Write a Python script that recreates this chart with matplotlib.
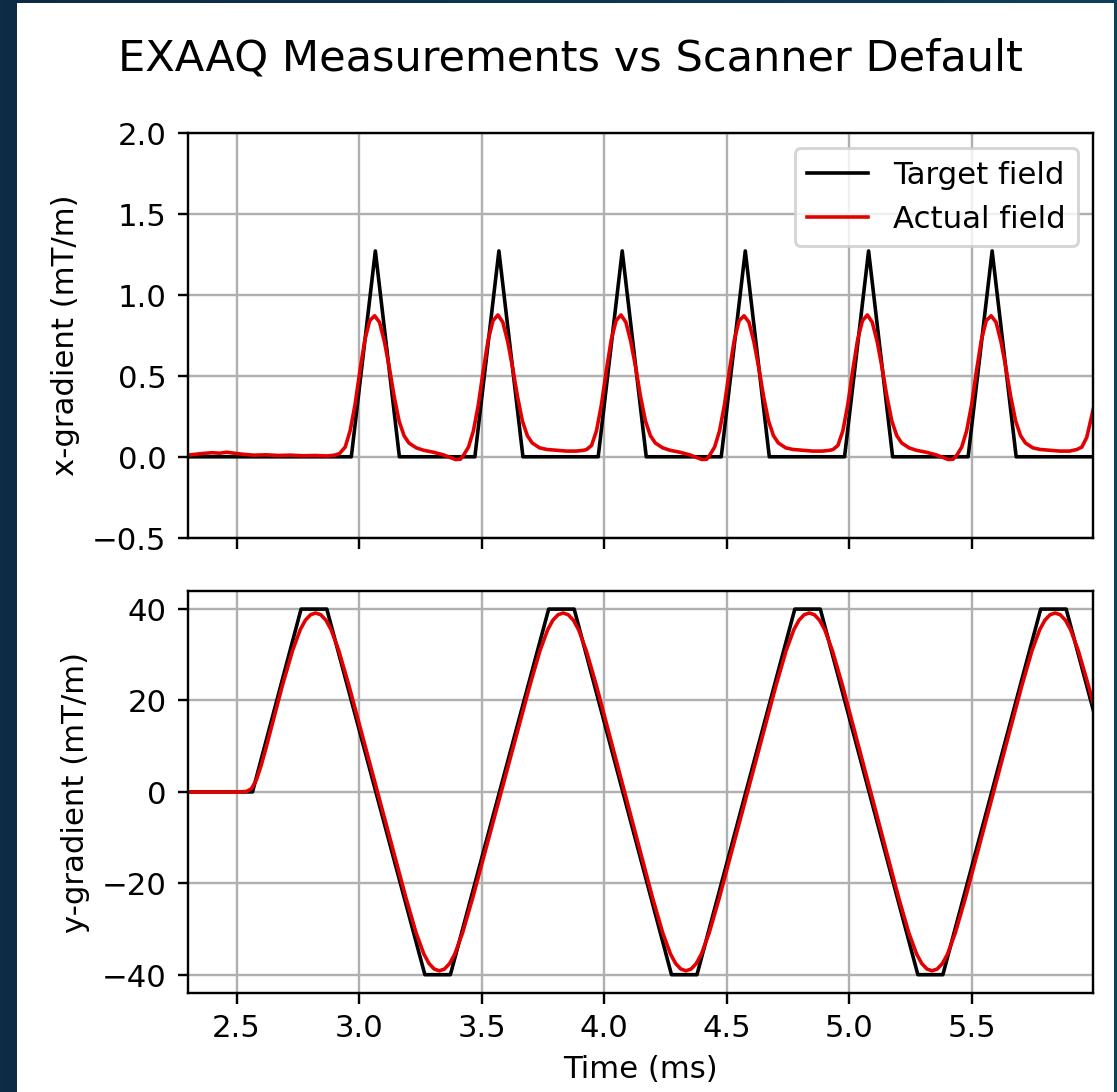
import numpy as np
import matplotlib
matplotlib.use("Agg")
import matplotlib.pyplot as plt
from matplotlib.colors import LinearSegmentedColormap
from matplotlib.patches import Rectangle

# --- x-gradient: target (triangular blips) ---
x_target_t = [2.30, 2.968, 3.066, 3.164, 3.472, 3.570, 3.668, 3.975, 4.073, 4.171,
              4.477, 4.575, 4.673, 4.980, 5.078, 5.176, 5.484, 5.582, 5.680, 6.00]
x_target_v = [0.0, 0.0, 1.27, 0.0, 0.0, 1.27, 0.0, 0.0, 1.27, 0.0,
              0.0, 1.27, 0.0, 0.0, 1.27, 0.0, 0.0, 1.27, 0.0, 0.0]

# --- x-gradient: measured ---
x_actual_t = [2.30, 2.33, 2.36, 2.40, 2.43, 2.46, 2.50, 2.53, 2.57, 2.62, 2.67, 2.72, 2.77, 2.82, 2.87, 2.90, 2.92,
              2.943, 2.963, 2.983, 3.003, 3.023, 3.043, 3.063, 3.083, 3.103, 3.123, 3.143, 3.163, 3.183, 3.203, 3.233,
              3.263, 3.303, 3.343, 3.373, 3.393, 3.413, 3.426,
              3.446, 3.466, 3.486, 3.506, 3.526, 3.546, 3.566, 3.586, 3.606, 3.626, 3.646, 3.666, 3.686, 3.706, 3.736,
              3.766, 3.806, 3.846, 3.886, 3.916, 3.928,
              3.948, 3.968, 3.988, 4.008, 4.028, 4.048, 4.068, 4.088, 4.108, 4.128, 4.148, 4.168, 4.188, 4.208, 4.238,
              4.268, 4.308, 4.348, 4.378, 4.398, 4.418, 4.430,
              4.450, 4.470, 4.490, 4.510, 4.530, 4.550, 4.570, 4.590, 4.610, 4.630, 4.650, 4.670, 4.690, 4.710, 4.740,
              4.770, 4.810, 4.850, 4.890, 4.920, 4.933,
              4.953, 4.973, 4.993, 5.013, 5.033, 5.053, 5.073, 5.093, 5.113, 5.133, 5.153, 5.173, 5.193, 5.213, 5.243,
              5.273, 5.313, 5.353, 5.383, 5.403, 5.423, 5.438,
              5.458, 5.478, 5.498, 5.518, 5.538, 5.558, 5.578, 5.598, 5.618, 5.638, 5.658, 5.678, 5.698, 5.718, 5.748,
              5.778, 5.818, 5.858, 5.898, 5.928, 5.948, 5.968, 5.988, 6.000]
x_actual_v = [0.010, 0.015, 0.020, 0.025, 0.022, 0.028, 0.020, 0.015, 0.010, 0.012, 0.008, 0.010, 0.006, 0.008, 0.005, 0.010, 0.020,
              0.06, 0.16, 0.32, 0.53, 0.72, 0.84, 0.87, 0.83, 0.71, 0.55, 0.37, 0.22, 0.13, 0.085, 0.055,
              0.040, 0.028, 0.012, -0.005, -0.017, -0.015, 0.010,
              0.06, 0.16, 0.32, 0.53, 0.72, 0.84, 0.875, 0.83, 0.71, 0.55, 0.37, 0.22, 0.13, 0.085, 0.055,
              0.045, 0.040, 0.035, 0.035, 0.040, 0.045,
              0.07, 0.16, 0.32, 0.53, 0.72, 0.84, 0.875, 0.83, 0.71, 0.55, 0.37, 0.22, 0.13, 0.085, 0.055,
              0.040, 0.028, 0.012, -0.005, -0.017, -0.015, 0.010,
              0.06, 0.16, 0.32, 0.53, 0.72, 0.84, 0.87, 0.83, 0.71, 0.55, 0.37, 0.22, 0.13, 0.085, 0.055,
              0.045, 0.040, 0.035, 0.035, 0.040, 0.045,
              0.07, 0.16, 0.32, 0.53, 0.72, 0.84, 0.875, 0.83, 0.71, 0.55, 0.37, 0.22, 0.13, 0.085, 0.055,
              0.040, 0.028, 0.012, -0.005, -0.017, -0.015, 0.010,
              0.06, 0.16, 0.32, 0.53, 0.72, 0.84, 0.87, 0.83, 0.71, 0.55, 0.37, 0.22, 0.13, 0.085, 0.055,
              0.045, 0.040, 0.035, 0.035, 0.045, 0.06, 0.12, 0.25, 0.33]

# --- y-gradient: target (trapezoids) ---
y_target_t = [2.30, 2.565, 2.763, 2.868, 3.268, 3.372, 3.773, 3.877, 4.274, 4.378,
              4.777, 4.881, 5.279, 5.381, 5.780, 5.884, 6.00]
y_target_v = [0, 0, 40, 40, -40, -40, 40, 40, -40, -40,
              40, 40, -40, -40, 40, 40, 16.8]

# --- y-gradient: measured ---
y_actual_t = [2.30, 2.50, 2.54, 2.56, 2.58, 2.60, 2.62,
              2.686, 2.728, 2.7595, 2.7805, 2.8015, 2.8225, 2.8435, 2.8645, 2.8855, 2.917, 2.959,
              3.1905, 3.2325, 3.264, 3.285, 3.306, 3.327, 3.348, 3.369, 3.390, 3.4215, 3.4635,
              3.6955, 3.7375, 3.769, 3.790, 3.811, 3.832, 3.853, 3.874, 3.895, 3.9265, 3.9685,
              4.1965, 4.2385, 4.270, 4.291, 4.312, 4.333, 4.354, 4.375, 4.396, 4.4275, 4.4695,
              4.6995, 4.7415, 4.773, 4.794, 4.815, 4.836, 4.857, 4.878, 4.899, 4.9305, 4.9725,
              5.2005, 5.2425, 5.274, 5.295, 5.316, 5.337, 5.358, 5.379, 5.400, 5.4315, 5.4735,
              5.7025, 5.7445, 5.776, 5.797, 5.818, 5.839, 5.860, 5.881, 5.902, 5.9335, 5.9755, 6.00]
y_actual_v = [0, 0, 0.09, 0.67, 2.52, 5.75, 9.61,
              23.12, 30.9, 35.49, 37.56, 38.76, 39.15, 38.76, 37.56, 35.49, 30.9, 23.12,
              -23.12, -30.9, -35.49, -37.56, -38.76, -39.15, -38.76, -37.56, -35.49, -30.9, -23.12,
              23.12, 30.9, 35.49, 37.56, 38.76, 39.15, 38.76, 37.56, 35.49, 30.9, 23.12,
              -23.12, -30.9, -35.49, -37.56, -38.76, -39.15, -38.76, -37.56, -35.49, -30.9, -23.12,
              23.12, 30.9, 35.49, 37.56, 38.76, 39.15, 38.76, 37.56, 35.49, 30.9, 23.12,
              -23.12, -30.9, -35.49, -37.56, -38.76, -39.15, -38.76, -37.56, -35.49, -30.9, -23.12,
              23.12, 30.9, 35.49, 37.56, 38.76, 39.15, 38.76, 37.56, 35.49, 30.9, 23.12, 18.22]

plt.rcParams["font.size"] = 10.25

W, H, DPI = 1117.4, 1092.4, 216
fig = plt.figure(figsize=(W / DPI, H / DPI), dpi=DPI)

# dark slide background with the white figure card on it
bg = fig.add_axes([0, 0, 1, 1], zorder=-10)
cmap = LinearSegmentedColormap.from_list("slide", ["#0f2b45", "#0c3f5b"])
bg.imshow(np.linspace(0, 1, 256)[None, :], aspect="auto", cmap=cmap, extent=[0, 1, 0, 1])
bg.add_patch(Rectangle((18 / 1117, 0), 1094 / 1117, 1088 / 1092, color="white"))
bg.set_xlim(0, 1)
bg.set_ylim(0, 1)
bg.axis("off")

ax1 = fig.add_axes([187.5 / 1117, 1 - 538 / 1092, 905.5 / 1117, 405 / 1092])
ax2 = fig.add_axes([187.5 / 1117, 1 - 993 / 1092, 905.5 / 1117, 402 / 1092], sharex=ax1)

red = "#e40000"
ax1.plot(x_target_t, x_target_v, color="black", lw=1.2, label="Target field")
ax1.plot(x_actual_t, x_actual_v, color=red, lw=1.2, label="Actual field")
ax1.set_ylim(-0.5, 2.0)
ax1.set_ylabel("x-gradient (mT/m)")
ax1.grid(True)
ax1.legend(loc="upper right")
ax1.tick_params(labelbottom=False)

ax2.plot(y_target_t, y_target_v, color="black", lw=1.2)
ax2.plot(y_actual_t, y_actual_v, color=red, lw=1.2)
ax2.set_ylim(-44, 44)
ax2.set_yticks([-40, -20, 0, 20, 40])
ax2.set_xlim(2.30, 5.995)
ax2.set_xticks([2.5, 3.0, 3.5, 4.0, 4.5, 5.0, 5.5])
ax2.set_ylabel("y-gradient (mT/m)")
ax2.set_xlabel("Time (ms)")
ax2.grid(True)

fig.text(570 / 1117, 1 - 70 / 1092, "EXAAQ Measurements vs Scanner Default",
         ha="center", va="baseline", fontsize=14.4)

fig.savefig("out.png", dpi=DPI)
